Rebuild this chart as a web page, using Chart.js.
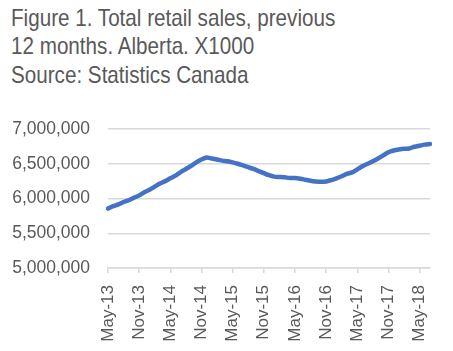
<!DOCTYPE html>
<html>
<head>
<meta charset="utf-8">
<script src="https://cdn.jsdelivr.net/npm/chart.js@4.4.1/dist/chart.umd.min.js"></script>
<style>
    html, body { margin: 0; padding: 0; background: #ffffff; }
    #wrap { position: relative; width: 453px; height: 351px; }
    #titulo {
        position: absolute; left: 11px; top: 4px;
        font-family: 'Liberation Sans', Arial, sans-serif;
        font-size: 24px; line-height: 28.3px; color: #595959; white-space: nowrap;
        /* fonte narrow não existe aqui, então comprime na horizontal */
        transform: scaleX(0.86); transform-origin: left top;
    }
    canvas { position: absolute; left: 0; top: 0; }
</style>
</head>
<body>
<div id="wrap">
    <div id="titulo">Figure 1. Total retail sales, previous<br>12 months. Alberta. X1000<br>Source: Statistics Canada</div>
    <canvas id="grafico" width="453" height="351"></canvas>
</div>
<script>
// Meses de May-13 a Jul-18 (rótulo visível a cada 6 meses)
const MESES = ['Jan', 'Feb', 'Mar', 'Apr', 'May', 'Jun', 'Jul', 'Aug', 'Sep', 'Oct', 'Nov', 'Dec'];
const labels = [];
for (let ano = 13, m = 4; !(ano === 18 && m === 7); m++) {
    if (m === 12) { m = 0; ano++; }
    if (ano === 18 && m === 7) break;
    labels.push(MESES[m] + '-' + ano);
}

// Vendas acumuladas 12 meses (X1000)
const vendas = [
    5855000, 5890000, 5915000, 5950000, 5975000, 6010000,
    6045000, 6090000, 6125000, 6170000, 6215000, 6250000,
    6290000, 6330000, 6380000, 6425000, 6470000, 6520000,
    6560000, 6590000, 6575000, 6560000, 6545000, 6535000,
    6520000, 6500000, 6475000, 6450000, 6425000, 6395000,
    6365000, 6335000, 6315000, 6310000, 6305000, 6295000,
    6295000, 6285000, 6270000, 6255000, 6245000, 6240000,
    6245000, 6265000, 6290000, 6320000, 6355000, 6375000,
    6420000, 6465000, 6500000, 6535000, 6575000, 6620000,
    6665000, 6690000, 6705000, 6715000, 6720000, 6745000,
    6760000, 6775000, 6785000
];

const yTicks = [5000000, 5500000, 6000000, 6500000, 7000000];

const corTexto = '#595959';
const corGrade = '#d9d9d9';

new Chart(document.getElementById('grafico').getContext('2d'), {
    type: 'line',
    data: {
        labels: labels,
        datasets: [{
            data: vendas,
            borderColor: '#4472C4',
            borderWidth: 4.5,
            pointRadius: 0,
            tension: 0.3,
            borderCapStyle: 'round',
            borderJoinStyle: 'round',
            fill: false
        }]
    },
    options: {
        responsive: false,
        animation: false,
        layout: { padding: { left: 12, right: 23, top: 129, bottom: 9 } },
        plugins: {
            legend: { display: false },
            tooltip: { enabled: false }
        },
        scales: {
            x: {
                offset: false,
                grid: {
                    offset: false,
                    drawOnChartArea: false,
                    color: corGrade,
                    lineWidth: 1.5,
                    tickLength: 5
                },
                border: { color: corGrade, width: 1.5 },
                afterFit: function (axis) { axis.height = 74; },
                ticks: {
                    autoSkip: false,
                    minRotation: 90,
                    maxRotation: 90,
                    padding: 12,
                    color: corTexto,
                    font: { family: "'Liberation Sans', Arial, sans-serif", size: 17 },
                    // só a cada 6 meses; null esconde também a marca
                    callback: function (v, i) { return i % 6 === 0 ? labels[i] : null; }
                }
            },
            y: {
                min: yTicks[0],
                max: yTicks[yTicks.length - 1],
                afterBuildTicks: function (axis) { axis.ticks = yTicks.map(v => ({ value: v })); },
                afterFit: function (axis) { axis.width = 96; },
                grid: { color: corGrade, lineWidth: 1.5, drawTicks: false },
                border: { display: false },
                ticks: {
                    padding: 18,
                    color: corTexto,
                    font: { family: "'Liberation Sans', Arial, sans-serif", size: 17.5 },
                    callback: function (v) { return v.toLocaleString('en-US'); }
                }
            }
        }
    }
});
</script>
</body>
</html>
